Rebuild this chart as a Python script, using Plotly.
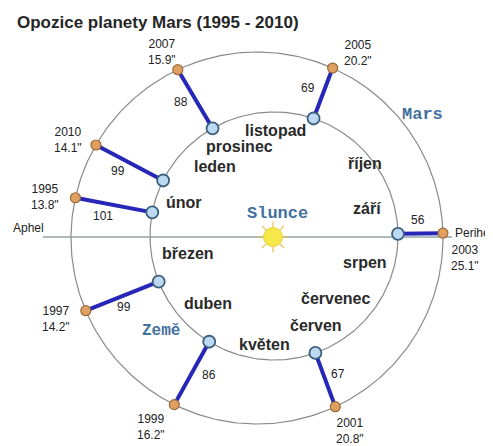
import numpy as np
import plotly.graph_objects as go

# ---------------- data ----------------
years = [1995, 1997, 1999, 2001, 2003, 2005, 2007, 2010]
earth_lon_deg = [169.0, 201.6, 238.5, 289.5, 1.0, 71.4, 119.7, 153.4]
mars_lon_deg = [167.5, 203.0, 243.6, 294.9, 1.5, 66.0, 115.2, 150.0]
distance_mkm = [101, 99, 86, 67, 56, 69, 88, 99]
diameter_arcsec = ["13.8", "14.2", "16.2", "20.8", "25.1", "20.2", "15.9", "14.1"]

months = ["listopad", "prosinec", "leden", "říjen", "únor", "září", "březen",
          "srpen", "duben", "červenec", "červen", "květen"]

# ---------------- geometry / style (pixel-like units) ----------------
SUN = (273, 237)
EARTH_C, EARTH_R = (274, 236), 124
MARS_C, MARS_R = (257, 238), 186

dist_label_offsets = [(-11, 11), (2, 11), (17, 2), (13, -6), (-2, -13), (-15, -5), (-14, 3), (-12, 8)]
year_label_offsets = [(-30, -1), (-30, 8), (-23, 22), (15, 24), (22, 25), (25, -15), (-16, -18), (-28, -5)]
month_pos = [(275, 130), (239, 146), (215, 166), (365, 163), (184, 202), (367, 208), (188, 253),
             (365, 262), (208, 303), (335, 298), (316, 325), (264, 344)]

# the page body has an 8px margin; the figure is sized to fill the rest of the window
PAGE_OFF = 8
W, H = 493, 446


def orbit_point(center, r, deg):
    a = np.radians(deg)
    return center[0] + r * np.cos(a), center[1] - r * np.sin(a)


fig = go.Figure()

# orbits
t = np.linspace(0, 360, 361)
for c, r in [(EARTH_C, EARTH_R), (MARS_C, MARS_R)]:
    ox, oy = orbit_point(c, r, t)
    fig.add_trace(go.Scatter(x=ox, y=oy, mode="lines", line=dict(color="#8a8a8a", width=1.2),
                             hoverinfo="skip", showlegend=False))

# apse line
fig.add_trace(go.Scatter(x=[43, 452], y=[SUN[1], SUN[1]], mode="lines",
                         line=dict(color="#8fa3a3", width=1.5), hoverinfo="skip", showlegend=False))

ex, ey = orbit_point(EARTH_C, EARTH_R, np.array(earth_lon_deg))
mx, my = orbit_point(MARS_C, MARS_R, np.array(mars_lon_deg))

# connecting lines
for i in range(len(years)):
    fig.add_trace(go.Scatter(x=[ex[i], mx[i]], y=[ey[i], my[i]], mode="lines",
                             line=dict(color="#2626b8", width=4), hoverinfo="skip", showlegend=False))

# planets
fig.add_trace(go.Scatter(x=ex, y=ey, mode="markers",
                         marker=dict(size=12, color="#bcd9f2", line=dict(color="#3c5f7c", width=1.8)),
                         showlegend=False))
fig.add_trace(go.Scatter(x=mx, y=my, mode="markers",
                         marker=dict(size=10, color="#e0a060", line=dict(color="#9a6a3a", width=1.2)),
                         showlegend=False))

# sun
fig.add_trace(go.Scatter(x=[SUN[0]], y=[SUN[1]], mode="markers",
                         marker=dict(size=26, symbol="asterisk-open", color="#e6c24a",
                                     line=dict(color="#e6c24a", width=1.2)),
                         hoverinfo="skip", showlegend=False))
fig.add_trace(go.Scatter(x=[SUN[0]], y=[SUN[1]], mode="markers",
                         marker=dict(size=19, color="#f7e84a", line=dict(color="#ead040", width=1)),
                         hoverinfo="skip", showlegend=False))

ann = []
num_font = dict(family="Liberation Sans, Arial", size=12, color="#222222")
for i in range(len(years)):
    midx, midy = (ex[i] + mx[i]) / 2, (ey[i] + my[i]) / 2
    dx, dy = dist_label_offsets[i]
    ann.append(dict(x=midx + dx, y=midy + dy, text=str(distance_mkm[i]), showarrow=False, font=num_font))
    dx, dy = year_label_offsets[i]
    ann.append(dict(x=mx[i] + dx, y=my[i] + dy, text=f"{years[i]}<br>{diameter_arcsec[i]}\"",
                    showarrow=False, font=num_font))

month_font = dict(family="Liberation Sans, Arial", size=16, color="#2a2a2a")
for m, (px, py) in zip(months, month_pos):
    ann.append(dict(x=px, y=py, text=f"<b>{m}</b>", showarrow=False, font=month_font, borderpad=0))

mono = dict(family="Liberation Mono, Courier New", size=17, color="#44709e")
ann.append(dict(x=277, y=213, text="<b>Slunce</b>", showarrow=False, font=mono))
ann.append(dict(x=422, y=114, text="<b>Mars</b>", showarrow=False, font=mono))
ann.append(dict(x=161, y=331, text="<b>Země</b>", showarrow=False, font=dict(mono, size=16)))

ann.append(dict(x=11, y=228, text="Aphel", showarrow=False, xanchor="left",
                font=dict(family="Liberation Sans, Arial", size=12, color="#222222")))
ann.append(dict(x=453, y=233, text="Perihe", showarrow=False, xanchor="left",
                font=dict(family="Liberation Sans, Arial", size=12, color="#222222")))

ann.append(dict(x=15, y=22, text="<b>Opozice planety Mars (1995 - 2010)</b>", showarrow=False,
                xanchor="left", font=dict(family="Liberation Sans, Arial", size=17, color="#262626")))

fig.update_layout(
    width=W - PAGE_OFF, height=H - PAGE_OFF,
    margin=dict(l=0, r=0, t=0, b=0),
    paper_bgcolor="white", plot_bgcolor="white",
    xaxis=dict(range=[PAGE_OFF, W], visible=False, fixedrange=True),
    yaxis=dict(range=[H, PAGE_OFF], visible=False, fixedrange=True),
    annotations=ann,
    showlegend=False,
)

fig.write_html("out.html")
